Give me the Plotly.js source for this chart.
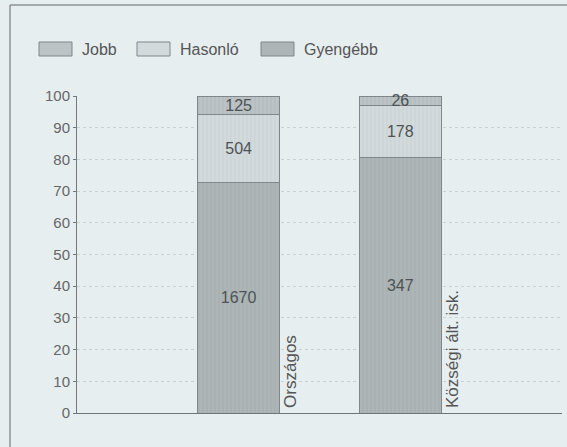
<!DOCTYPE html>
<html>
<head>
<meta charset="utf-8">
<script src="https://cdn.plot.ly/plotly-3.0.1.min.js"></script>
<style>html,body{margin:0;padding:0;background:#e6eef0;}#chart{width:567px;height:447px;}</style>
</head>
<body>
<div id="chart"></div>
<script>
// Data (bar heights in %, labels are the counts printed on the bars)
const categories = ["Országos", "Községi ált. isk."];
const seriesNames = ["Gyengébb", "Hasonló", "Jobb"];
const legendOrder = ["Jobb", "Hasonló", "Gyengébb"];
const gyengebbPct = [72.8, 80.5];
const hasonloPct = [21.4, 16.4];
const jobbPct = [5.8, 3.1];
const gyengebbCount = ["1670", "347"];
const hasonloCount = ["504", "178"];
const jobbCount = ["125", "26"];
const yTicks = [0, 10, 20, 30, 40, 50, 60, 70, 80, 90, 100];

const FONT = "Liberation Sans, Arial, sans-serif";
const xIdx = categories.map((c, i) => i);
const colors = {"Gyengébb": "#adb5b7", "Hasonló": "#d2dadc", "Jobb": "#bbc3c5"};
const stripe = {"Gyengébb": "#9ba3a5", "Hasonló": "#c1c9cb", "Jobb": "#a7afb1"};
const vals = {"Gyengébb": gyengebbPct, "Hasonló": hasonloPct, "Jobb": jobbPct};
const labels = {"Gyengébb": gyengebbCount, "Hasonló": hasonloCount, "Jobb": jobbCount};

const traces = seriesNames.map(name => ({
  type: "bar",
  name: name,
  x: xIdx,
  y: vals[name],
  text: labels[name],
  textposition: "inside",
  insidetextanchor: "middle",
  constraintext: "none",
  cliponaxis: false,
  textangle: 0,
  textfont: {family: FONT, size: 16, color: "#4d5354"},
  width: 0.51,
  marker: {
    color: colors[name],
    line: {color: "#80878a", width: 1},
    pattern: {shape: "|", size: 4, solidity: 0.25, fgcolor: stripe[name], bgcolor: colors[name], fillmode: "overlay"}
  },
  showlegend: false,
  hoverinfo: "skip"
}));

// pixel -> paper helpers (plot area: x 77..562, y 96..413)
const px = v => (v - 77) / 485;
const py = v => (413 - v) / 317;

const annotations = categories.map((c, i) => ({
  x: i + 0.32, y: 0, xref: "x", yref: "y",
  text: c, showarrow: false, textangle: -90,
  xanchor: "center", yanchor: "bottom", yshift: 3,
  font: {family: FONT, size: 17, color: "#555"}
}));

// legend (custom wide swatches like the original)
const legendSwatchX = [39, 137, 261];
const shapes = [];
legendOrder.forEach((name, i) => {
  const x0 = legendSwatchX[i];
  shapes.push({type: "rect", xref: "paper", yref: "paper",
    x0: px(x0), x1: px(x0 + 33), y0: py(56), y1: py(42),
    fillcolor: colors[name], line: {color: "#80878a", width: 1}});
  annotations.push({xref: "paper", yref: "paper", x: px(x0 + 41), y: py(49),
    xanchor: "left", yanchor: "middle", showarrow: false, text: name,
    font: {family: FONT, size: 16, color: "#555"}});
});
// outer frame (top & left edges visible in the scan)
shapes.push({type: "line", xref: "paper", yref: "paper", x0: px(10), x1: px(575), y0: py(5), y1: py(5),
  line: {color: "#666", width: 1}});
shapes.push({type: "line", xref: "paper", yref: "paper", x0: px(10), x1: px(10), y0: py(5), y1: py(460),
  line: {color: "#666", width: 1}});

const layout = {
  width: 567, height: 447,
  paper_bgcolor: "#e6eef0", plot_bgcolor: "#e6eef0",
  margin: {l: 77, r: 5, t: 96, b: 34},
  barmode: "stack",
  showlegend: false,
  xaxis: {
    range: [-1, 2], showticklabels: false, ticks: "", showgrid: false,
    zeroline: false, showline: true, linecolor: "#6f7576", linewidth: 1, fixedrange: true
  },
  yaxis: {
    range: [0, 100], tickvals: yTicks, ticks: "outside", ticklen: 3, tickcolor: "#777",
    showline: true, linecolor: "#777", linewidth: 1,
    showgrid: true, gridcolor: "#c9d1d3", griddash: "dot", zeroline: false,
    tickfont: {family: FONT, size: 15, color: "#666"},
    fixedrange: true
  },
  annotations: annotations,
  shapes: shapes
};

Plotly.newPlot("chart", traces, layout, {displayModeBar: false, staticPlot: true});
</script>
</body>
</html>
